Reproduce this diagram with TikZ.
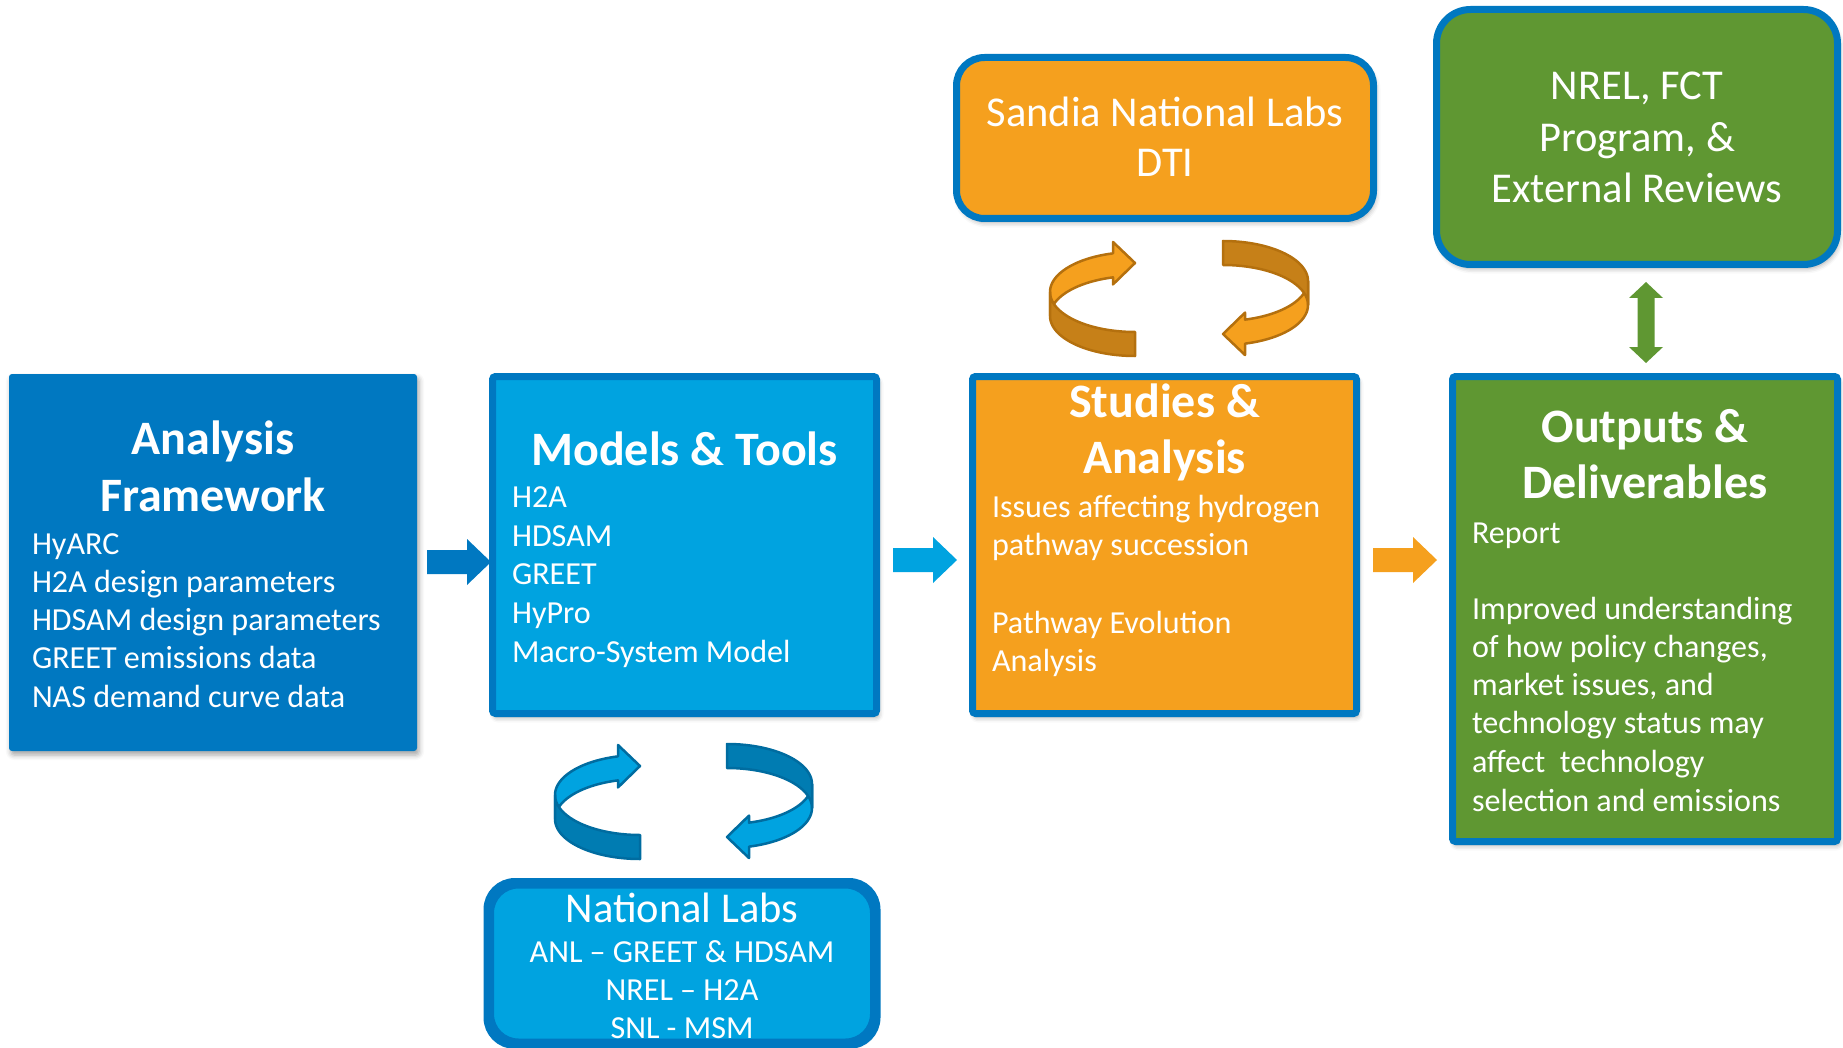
\documentclass[tikz,border=0pt]{standalone}
\usepackage{fontspec}
\setmainfont{Carlito}
\usetikzlibrary{shadows.blur}
\definecolor{dblue}{RGB}{0,120,193}
\definecolor{lblue}{RGB}{0,163,224}
\definecolor{orng}{RGB}{245,160,30}
\definecolor{grn}{RGB}{95,151,50}
\definecolor{orngdark}{RGB}{198,128,24}
\definecolor{orngline}{RGB}{180,112,14}
\definecolor{bluedark}{RGB}{0,124,178}
\definecolor{blueline}{RGB}{0,108,160}
\newcommand\curvarrow[3]{%
  \filldraw[fill=#1, draw=#3, line width=2.5pt, line join=round]
    (-22,-38.6) -- (-22,-50) -- (0,-29) -- (-22,-7.6)
    -- plot[domain=-105:-180, samples=30] ({85*cos(\x)},{24+40*sin(\x)})
    -- plot[domain=-180:-105, samples=30] ({85*cos(\x)},{40*sin(\x)}) -- cycle;
  \filldraw[fill=#2, draw=#3, line width=2.5pt, line join=round]
    plot[domain=-180:-270, samples=30] ({85*cos(\x)},{40*sin(\x)})
    -- plot[domain=-270:-180, samples=30] ({85*cos(\x)},{24+40*sin(\x)}) -- cycle;
}
\newcommand\barrow[3]{%
  \begin{scope}[shift={(#2,#3)}]
    \fill[#1] (0,-12) -- (40,-12) -- (40,-23) -- (64,0) -- (40,23) -- (40,12) -- (0,12) -- cycle;
  \end{scope}
}
\tikzset{
  txt/.style={text=white, inner sep=0pt, outer sep=0pt},
  ttl/.style={txt, font=\fontsize{48}{57}\selectfont\bfseries, anchor=base},
  bdy/.style={txt, font=\fontsize{32.1}{38}\selectfont, anchor=base west},
  big/.style={txt, anchor=base, font=\fontsize{42.5}{50}\selectfont},
  mid/.style={txt, anchor=base, font=\fontsize{32.1}{38}\selectfont},
  boxshadow/.style={blur shadow={shadow xshift=2pt, shadow yshift=-4pt, shadow blur radius=5pt, shadow opacity=35}},
  sqbox/.style={draw=dblue, line width=7pt, rounded corners=3pt, boxshadow},
  rbox/.style={draw=dblue, line width=7pt, boxshadow},
}
\begin{document}
\begin{tikzpicture}[x=1pt, y=-1pt]
\useasboundingbox (0,0) rectangle (1843,1048);

% block arrows
\barrow{dblue}{427}{562}
\barrow{lblue}{893}{560}
\barrow{orng}{1373}{560}
\fill[grn] (1646,282) -- (1663,298) -- (1654.5,298) -- (1654.5,347) -- (1663,347) -- (1646,363)
  -- (1629,347) -- (1637.5,347) -- (1637.5,298) -- (1629,298) -- cycle;

% boxes
\node[fill=dblue, rounded corners=3pt, minimum width=408pt, minimum height=377pt, boxshadow] (af) at (213,562.5) {};
\node[sqbox, fill=lblue, minimum width=384pt, minimum height=337pt] (mt) at (684.5,545) {};
\node[sqbox, fill=orng, minimum width=384pt, minimum height=337pt] (sa) at (1164.5,545) {};
\node[sqbox, fill=grn, minimum width=385pt, minimum height=465pt] (od) at (1645,609) {};
\node[rbox, rounded corners=28pt, fill=orng, minimum width=417pt, minimum height=161pt] (snl) at (1165,138) {};
\node[rbox, rounded corners=34pt, fill=grn, minimum width=401pt, minimum height=255pt] (nrel) at (1637,137) {};
\node[rbox, rounded corners=28pt, fill=lblue, minimum width=383pt, minimum height=157pt] (nl) at (682,963.5) {};

% curved arrows
\begin{scope}[shift={(1135,292)}]\curvarrow{orng}{orngdark}{orngline}\end{scope}
\begin{scope}[shift={(1223,305)}, rotate=180]\curvarrow{orng}{orngdark}{orngline}\end{scope}
\begin{scope}[shift={(640,795)}]\curvarrow{lblue}{bluedark}{blueline}\end{scope}
\begin{scope}[shift={(727,808)}, rotate=180]\curvarrow{lblue}{bluedark}{blueline}\end{scope}

% Analysis Framework
\node[ttl] (af-t1) at (213,454) {Analysis};
\node[ttl] (af-t2) at (213,511) {Framework};
\node[bdy] (af-1) at (32,554) {HyARC};
\node[bdy] (af-2) at (32,592) {H2A design parameters};
\node[bdy] (af-3) at (32,630) {HDSAM design parameters};
\node[bdy] (af-4) at (32,668) {GREET emissions data};
\node[bdy] (af-5) at (32,707) {NAS demand curve data};

% Models & Tools
\node[ttl] (mt-t) at (684.5,465) {Models \& Tools};
\node[bdy] (mt-1) at (512,507) {H2A};
\node[bdy] (mt-2) at (512,546) {HDSAM};
\node[bdy] (mt-3) at (512,584) {GREET};
\node[bdy] (mt-4) at (512,623) {HyPro};
\node[bdy] (mt-5) at (512,662) {Macro-System Model};

% Studies & Analysis
\node[ttl] (sa-t1) at (1164.5,417) {Studies \&};
\node[ttl] (sa-t2) at (1164.5,473) {Analysis};
\node[bdy] (sa-1) at (992,517) {Issues affecting hydrogen};
\node[bdy] (sa-2) at (992,555) {pathway succession};
\node[bdy] (sa-3) at (992,633) {Pathway Evolution};
\node[bdy] (sa-4) at (992,671) {Analysis};

% Outputs & Deliverables
\node[ttl] (od-t1) at (1645,442) {Outputs \&};
\node[ttl] (od-t2) at (1645,498) {Deliverables};
\node[bdy] (od-1) at (1472,543) {Report};
\node[bdy] (od-2) at (1472,619) {Improved understanding};
\node[bdy] (od-3) at (1472,657) {of how policy changes,};
\node[bdy] (od-4) at (1472,695) {market issues, and};
\node[bdy] (od-5) at (1472,733) {technology status may};
\node[bdy] (od-6) at (1472,772) {affect\ \ technology};
\node[bdy] (od-7) at (1472,811) {selection and emissions};

% Sandia
\node[big] (snl-1) at (1165,127) {Sandia National Labs};
\node[big] (snl-2) at (1165,177) {DTI};

% NREL
\node[big] (nrel-1) at (1637,100) {NREL, FCT};
\node[big] (nrel-2) at (1637,152) {Program, \&};
\node[big] (nrel-3) at (1637,203) {External Reviews};

% National Labs
\node[big] (nl-t) at (682,922) {National Labs};
\node[mid] (nl-1) at (682,962) {ANL -- GREET \& HDSAM};
\node[mid] (nl-2) at (682,1000) {NREL -- H2A};
\node[mid] (nl-3) at (682,1038) {SNL - MSM};
\draw[dblue, line width=7pt, rounded corners=28pt] (nl.south west) rectangle (nl.north east);
\end{tikzpicture}
\end{document}
